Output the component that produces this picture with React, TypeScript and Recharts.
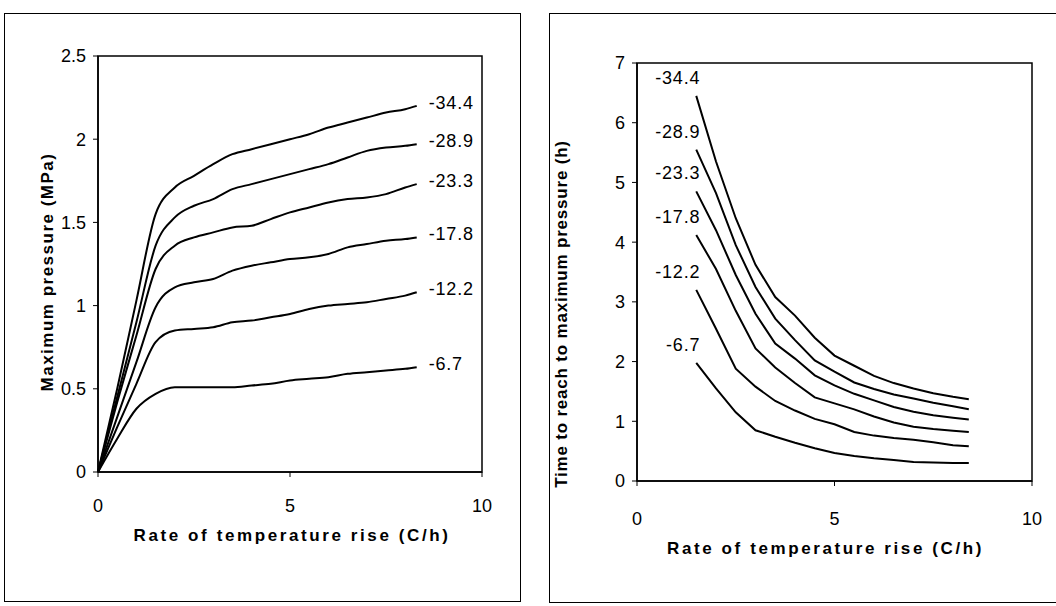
import { LineChart, Line, XAxis, YAxis, ReferenceArea } from 'recharts'

// left panel: maximum pressure vs rate of temperature rise
const rateL = [0, 0.5, 1, 1.5, 2, 2.5, 3, 3.5, 4, 4.5, 5, 5.5, 6, 6.5, 7, 7.5, 8, 8.3]
const pres344 = [0, 0.5, 1.03, 1.55, 1.71, 1.78, 1.85, 1.91, 1.94, 1.97, 2.0, 2.03, 2.07, 2.1, 2.13, 2.16, 2.18, 2.2]
const pres289 = [0, 0.45, 0.9, 1.36, 1.53, 1.6, 1.64, 1.7, 1.73, 1.76, 1.79, 1.82, 1.85, 1.89, 1.93, 1.95, 1.96, 1.97]
const pres233 = [0, 0.42, 0.82, 1.22, 1.36, 1.41, 1.44, 1.47, 1.48, 1.52, 1.56, 1.59, 1.62, 1.64, 1.65, 1.67, 1.71, 1.73]
const pres178 = [0, 0.33, 0.66, 0.99, 1.11, 1.14, 1.16, 1.21, 1.24, 1.26, 1.28, 1.29, 1.31, 1.35, 1.37, 1.39, 1.4, 1.41]
const pres122 = [0, 0.27, 0.53, 0.78, 0.85, 0.86, 0.87, 0.9, 0.91, 0.93, 0.95, 0.98, 1.0, 1.01, 1.02, 1.04, 1.06, 1.08]
const pres67 = [0, 0.2, 0.38, 0.47, 0.51, 0.51, 0.51, 0.51, 0.52, 0.53, 0.55, 0.56, 0.57, 0.59, 0.6, 0.61, 0.62, 0.63]

// right panel: time to reach maximum pressure
const rateR = [1.5, 2, 2.5, 3, 3.5, 4, 4.5, 5, 5.5, 6, 6.5, 7, 7.5, 8, 8.4]
const time344 = [6.45, 5.35, 4.4, 3.62, 3.08, 2.77, 2.4, 2.1, 1.93, 1.76, 1.64, 1.55, 1.47, 1.41, 1.37]
const time289 = [5.55, 4.82, 3.95, 3.25, 2.72, 2.36, 2.02, 1.83, 1.65, 1.54, 1.45, 1.38, 1.31, 1.25, 1.2]
const time233 = [4.85, 4.2, 3.45, 2.8, 2.3, 2.05, 1.77, 1.6, 1.46, 1.35, 1.24, 1.16, 1.1, 1.06, 1.03]
const time178 = [4.12, 3.55, 2.85, 2.22, 1.9, 1.64, 1.4, 1.3, 1.2, 1.08, 0.98, 0.91, 0.87, 0.84, 0.82]
const time122 = [3.2, 2.55, 1.88, 1.58, 1.34, 1.18, 1.04, 0.95, 0.82, 0.76, 0.72, 0.69, 0.65, 0.6, 0.58]
const time67 = [1.98, 1.55, 1.15, 0.85, 0.74, 0.64, 0.55, 0.47, 0.42, 0.38, 0.35, 0.32, 0.31, 0.3, 0.3]

const temps = ['-34.4', '-28.9', '-23.3', '-17.8', '-12.2', '-6.7']
const xTicks = [0, 5, 10]
const yTicksL = [0, 0.5, 1, 1.5, 2, 2.5]
const yTicksR = [0, 1, 2, 3, 4, 5, 6, 7]

const presSeries = [pres344, pres289, pres233, pres178, pres122, pres67]
const timeSeries = [time344, time289, time233, time178, time122, time67]

const leftData = rateL.map((r, i) => {
  const row: Record<string, number> = { rate: r }
  temps.forEach((t, k) => { row[t] = presSeries[k][i] })
  return row
})
const rightData = rateR.map((r, i) => {
  const row: Record<string, number> = { rate: r }
  temps.forEach((t, k) => { row[t] = timeSeries[k][i] })
  return row
})

const FONT = '"Liberation Sans", Arial, sans-serif'
const tickStyle = { fontSize: 18, fill: '#000', fontFamily: FONT }
const axisLine = { stroke: '#000', strokeWidth: 1.5 }

const xTitle = (text: string, dx: number, dy: number) => (props: any) => {
  const vb = props.viewBox
  return (
    <text x={vb.x + vb.width / 2 + dx} y={vb.y + dy} textAnchor="middle" dominantBaseline="central"
      fontFamily={FONT} fontWeight="bold" fontSize={17} letterSpacing={2.6} fill="#000">{text}</text>
  )
}
const yTitle = (text: string, cx: number, dy: number, spacing: number) => (props: any) => {
  const vb = props.viewBox
  const cy = vb.y + vb.height / 2 + dy
  return (
    <text x={cx} y={cy} transform={`rotate(-90 ${cx} ${cy})`} textAnchor="middle" dominantBaseline="central"
      fontFamily={FONT} fontWeight="bold" fontSize={17} letterSpacing={spacing} fill="#000">{text}</text>
  )
}

// tag at the last point (left panel)
const endTag = (name: string, last: number) => (props: any) => {
  if (props.index !== last) return null
  return (
    <text x={props.x + 12} y={props.y - 3} dominantBaseline="central" fontFamily={FONT} fontSize={18}
      letterSpacing={0.8} fill="#000">{name}</text>
  )
}
// tag before the first point (right panel)
const startTag = (name: string) => (props: any) => {
  if (props.index !== 0) return null
  return (
    <text x={props.x + 4} y={props.y - 12} textAnchor="end" fontFamily={FONT} fontSize={18}
      letterSpacing={0.8} fill="#000">{name}</text>
  )
}

export default function App() {
  return (
    <div style={{ position: 'absolute', left: 0, top: 0, width: 1056, height: 606, background: '#fff', overflow: 'hidden' }}>
      <div style={{ position: 'absolute', left: 4, top: 13, width: 515, height: 587, border: '1.5px solid #000' }} />
      <div style={{ position: 'absolute', left: 549, top: 13, width: 530, height: 588, border: '1.5px solid #000' }} />

      <div style={{ position: 'absolute', left: 0, top: 0 }}>
        <LineChart width={520} height={600} data={leftData} margin={{ top: 56, right: 38, left: 0, bottom: 68 }}>
          <XAxis dataKey="rate" type="number" domain={[0, 10]} ticks={xTicks} tick={tickStyle}
            axisLine={axisLine} tickLine={{ stroke: '#000' }} tickSize={5} tickMargin={22} height={60}
            label={{ content: xTitle('Rate of temperature rise (C/h)', 2, 63) }} />
          <YAxis type="number" domain={[0, 2.5]} ticks={yTicksL} tick={tickStyle} axisLine={axisLine}
            tickLine={{ stroke: '#000' }} tickSize={5} tickMargin={7} width={98}
            label={{ content: yTitle('Maximum pressure (MPa)', 47, 8, 1.5) }} />
          <ReferenceArea x1={0} x2={10} y1={0} y2={2.5} fill="none" stroke="#000" strokeWidth={1.5} ifOverflow="visible" />
          {temps.map((t) => (
            <Line key={t} dataKey={t} type="monotone" stroke="#000" strokeWidth={2} dot={false}
              isAnimationActive={false} label={endTag(t, rateL.length - 1)} />
          ))}
        </LineChart>
      </div>

      <div style={{ position: 'absolute', left: 540, top: 0 }}>
        <LineChart width={516} height={600} data={rightData} margin={{ top: 63, right: 24, left: 0, bottom: 59 }}>
          <XAxis dataKey="rate" type="number" domain={[0, 10]} ticks={xTicks} tick={tickStyle}
            axisLine={axisLine} tickLine={{ stroke: '#000' }} tickSize={5} tickMargin={26} height={60}
            label={{ content: xTitle('Rate of temperature rise (C/h)', -9, 67) }} />
          <YAxis type="number" domain={[0, 7]} ticks={yTicksR} tick={tickStyle} axisLine={axisLine}
            tickLine={{ stroke: '#000' }} tickSize={5} tickMargin={7} width={97}
            label={{ content: yTitle('Time to reach to maximum pressure (h)', 21, 42, 0.8) }} />
          <ReferenceArea x1={0} x2={10} y1={0} y2={7} fill="none" stroke="#000" strokeWidth={1.5} ifOverflow="visible" />
          {temps.map((t) => (
            <Line key={t} dataKey={t} type="linear" stroke="#000" strokeWidth={2} dot={false}
              isAnimationActive={false} label={startTag(t)} />
          ))}
        </LineChart>
      </div>
    </div>
  )
}
